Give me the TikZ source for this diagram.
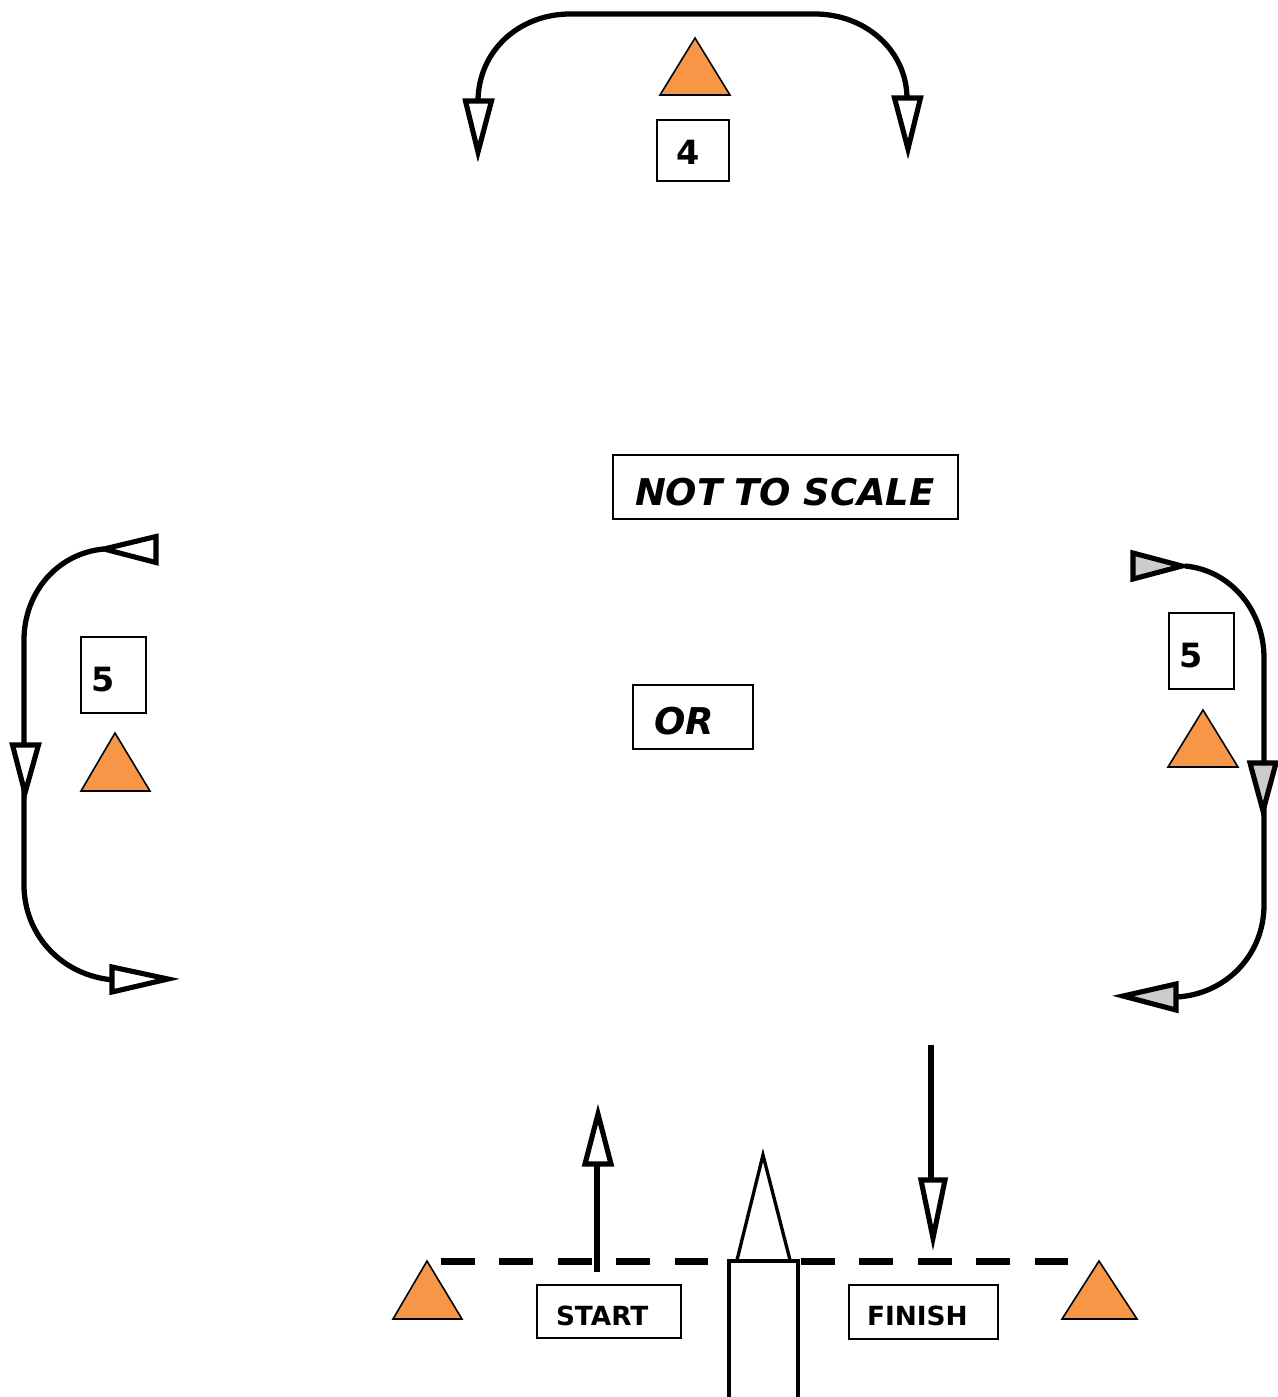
\documentclass[tikz,border=0pt]{standalone}
\usepackage{fontspec}
\setmainfont{DejaVu Sans}
\usepackage{xcolor}
\definecolor{coneorange}{HTML}{F79646}
\definecolor{headgray}{HTML}{CCCCCC}
\newcommand{\lowered}[2][2.8pt]{\raisebox{-#1}[0.7em][0pt]{#2}}
\tikzset{
  course/.style={line width=3pt},
  headwhite/.style={line width=2.9pt,draw=black,fill=white,miter limit=20},
  headgrey/.style={line width=2.9pt,draw=black,fill=headgray,miter limit=20},
  gate/.style={line width=4pt,dash pattern=on 0.68cm off 0.49cm},
  boat/.style={line width=1.9pt,fill=white,miter limit=20},
  cone/.style={line width=0.9pt,draw=black,fill=coneorange},
  signbox/.style={draw,line width=0.8pt,align=left,font=\bfseries,inner ysep=0pt},
  slanted/.style={signbox,font=\bfseries\itshape\fontsize{21}{24}\selectfont},
  digitsign/.style={signbox,font=\bfseries\fontsize{19}{21}\selectfont},
  wordsign/.style={signbox,font=\bfseries\fontsize{15}{15}\selectfont},
}
\begin{document}
\begin{tikzpicture}[x=0.02cm,y=-0.02cm]
  \useasboundingbox (0,0) rectangle (1278,1397);
  % top turn
  \draw[course] (478,102) .. controls (478,50) and (520,14) .. (570,14) -- (815,14) .. controls (865,14) and (907,50) .. (907,99);
  \filldraw[headwhite] (465.5,101) -- (491.5,101) -- (478,152) -- cycle;
  \filldraw[headwhite] (894.5,98) -- (920.5,98) -- (908,149) -- cycle;
  \filldraw[cone] (660,95) -- (695,38) -- (730,95) -- cycle;
  \node[digitsign,minimum width=1.44cm,minimum height=1.22cm,inner xsep=0.38cm,text width=0.68cm] (fourbox) at (693,150.5) {\lowered[1.5pt]{4}};
  % left turn
  \draw[course] (104,549) .. controls (58,553) and (24,592) .. (24,640) -- (24,885) .. controls (24,935) and (62,976) .. (114,980);
  \filldraw[headwhite] (156,536.5) -- (156,562.5) -- (104,549) -- cycle;
  \filldraw[headwhite] (12.5,745) -- (38.5,745) -- (25,793) -- cycle;
  \filldraw[headwhite] (112,967) -- (112,992) -- (168,979) -- cycle;
  \node[digitsign,minimum width=1.3cm,minimum height=1.52cm,inner xsep=0.2cm,text width=0.9cm] (leftbox) at (113.5,675) {\lowered{5}};
  \filldraw[cone] (81,791) -- (115,733) -- (150,791) -- cycle;
  % right turn
  \draw[course] (1185,566) .. controls (1230,570) and (1264,610) .. (1264,658) -- (1264,905) .. controls (1264,955) and (1226,994) .. (1177,997);
  \filldraw[headgrey] (1133,553) -- (1133,579) -- (1182,566) -- cycle;
  \filldraw[headgrey] (1250,763) -- (1276,763) -- (1263,811) -- cycle;
  \filldraw[headgrey] (1176,984) -- (1176,1010) -- (1123,996) -- cycle;
  \node[digitsign,minimum width=1.3cm,minimum height=1.52cm,inner xsep=0.2cm,text width=0.9cm] (rightbox) at (1201.5,651) {\lowered{5}};
  \filldraw[cone] (1168,767) -- (1203,710) -- (1238,767) -- cycle;
  % notes
  \node[slanted,minimum width=6.9cm,minimum height=1.28cm,inner xsep=0.44cm,text width=6.02cm] (scalebox) at (785.5,487) {\lowered[3.4pt]{NOT TO SCALE}};
  \node[slanted,minimum width=2.4cm,minimum height=1.28cm,inner xsep=0.42cm,text width=1.56cm] (orbox) at (693,717) {\lowered{OR}};
  % start and finish
  \draw[gate] (441,1261) -- (708,1261);
  \draw[gate] (801,1261) -- (1068,1261);
  \draw[course] (597,1272) -- (597,1165);
  \filldraw[headwhite] (585,1164) -- (611,1164) -- (598,1114) -- cycle;
  \draw[course] (931,1045) -- (931,1180);
  \filldraw[headwhite] (921,1180) -- (945,1180) -- (933,1238) -- cycle;
  \filldraw[boat,draw=black] (737,1260) -- (763,1155) -- (790,1260);
  \draw[boat,fill=none] (729,1397) -- (729,1261) -- (798,1261) -- (798,1397);
  \filldraw[cone] (393,1319) -- (427,1261) -- (462,1319) -- cycle;
  \filldraw[cone] (1062,1319) -- (1099,1261) -- (1137,1319) -- cycle;
  \node[wordsign,minimum width=2.88cm,minimum height=1.06cm,inner xsep=0.38cm,text width=2.12cm] (startbox) at (609,1311.5) {\lowered[2.5pt]{START}};
  \node[wordsign,minimum width=2.98cm,minimum height=1.08cm,inner xsep=0.36cm,text width=2.26cm] (finishbox) at (923.5,1312) {\lowered[2.3pt]{FINISH}};
\end{tikzpicture}
\end{document}
